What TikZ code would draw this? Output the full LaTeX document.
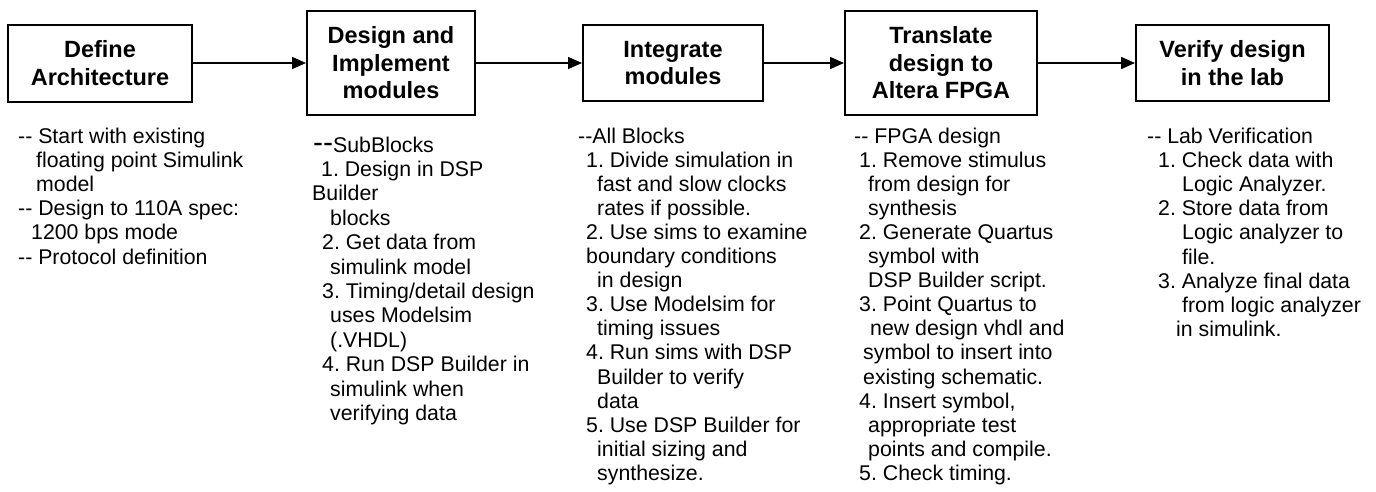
\documentclass[tikz,border=0pt]{standalone}
\usepackage{fontspec}
\setmainfont{Liberation Sans}[Ligatures=TeXOff]
\usetikzlibrary{arrows.meta}
\frenchspacing
\begin{document}
\begin{tikzpicture}[x=1pt,y=-1pt,
  box/.style={draw, line width=2pt, inner sep=0pt, align=center,
    font=\fontsize{23.5}{27.5}\selectfont\bfseries},
  body/.style={inner sep=0pt, anchor=base west, font=\fontsize{21.3}{24}\selectfont},
  conn/.style={line width=1.5pt, -{Triangle[length=14pt,width=12pt]}}]
\useasboundingbox (0,0) rectangle (1376,491);
\node[box, minimum width=184pt, minimum height=77pt] (b1) at (100,63) {Define\\Architecture};
\node[box, minimum width=168pt, minimum height=104pt] (b2) at (391,63) {Design and\\Implement\\modules};
\node[box, minimum width=180pt, minimum height=76pt] (b3) at (673,63) {Integrate\\modules};
\node[box, minimum width=192pt, minimum height=104pt] (b4) at (941,63) {Translate\\design to\\Altera FPGA};
\node[box, minimum width=193pt, minimum height=76pt] (b5) at (1232.5,63) {Verify design\\in the lab};
\draw[conn] (b1.east) -- (b2.west);
\draw[conn] (b2.east) -- (b3.west);
\draw[conn] (b3.east) -- (b4.west);
\draw[conn] (b4.east) -- (b5.west);
% column 1
\foreach \x/\txt [count=\i from 0] in {
  18/{-- Start with existing},
  36/{floating point Simulink},
  36/{model},
  18/{-- Design to 110A spec:},
  31/{1200 bps mode},
  18/{-- Protocol definition}}
  \node[body] (ca\i) at (\x,{143+\i*24.2}) {\txt};
% column 2
\foreach \x/\txt [count=\i from 0] in {
  313/{{\fontsize{30}{30}\selectfont--}SubBlocks},
  321/{1. Design in DSP},
  312/{Builder},
  330/{blocks},
  322/{2. Get data from},
  330/{simulink model},
  322/{3. Timing/detail design},
  330/{uses Modelsim},
  330/{(.VHDL)},
  322/{4. Run DSP Builder in},
  330/{simulink when},
  330/{verifying data}}
  \node[body] (cb\i) at (\x,{152+\i*24.4}) {\txt};
% column 3
\foreach \x/\txt [count=\i from 0] in {
  578/{--All Blocks},
  586/{1. Divide simulation in},
  597/{fast and slow clocks},
  597/{rates if possible.},
  586/{2. Use sims to examine},
  586/{boundary conditions},
  597/{in design},
  586/{3. Use Modelsim for},
  597/{timing issues},
  586/{4. Run sims with DSP},
  597/{Builder to verify},
  597/{data},
  586/{5. Use DSP Builder for},
  597/{initial sizing and},
  597/{synthesize.}}
  \node[body] (cc\i) at (\x,{143+\i*24.1}) {\txt};
% column 4
\foreach \x/\txt [count=\i from 0] in {
  854/{-- FPGA design},
  859/{1. Remove stimulus},
  868/{from design for},
  868/{synthesis},
  859/{2. Generate Quartus},
  868/{symbol with},
  868/{DSP Builder script.},
  859/{3. Point Quartus to},
  870/{new design vhdl and},
  863/{symbol to insert into},
  863/{existing schematic.},
  859/{4. Insert symbol,},
  868/{appropriate test},
  868/{points and compile.},
  859/{5. Check timing.}}
  \node[body] (cd\i) at (\x,{143+\i*24.1}) {\txt};
% column 5
\foreach \x/\txt [count=\i from 0] in {
  1147/{-- Lab Verification},
  1158/{1. Check data with},
  1182/{Logic Analyzer.},
  1158/{2. Store data from},
  1182/{Logic analyzer to},
  1182/{file.},
  1158/{3. Analyze final data},
  1182/{from logic analyzer},
  1176/{in simulink.}}
  \node[body] (ce\i) at (\x,{143+\i*24.2}) {\txt};
\end{tikzpicture}
\end{document}
